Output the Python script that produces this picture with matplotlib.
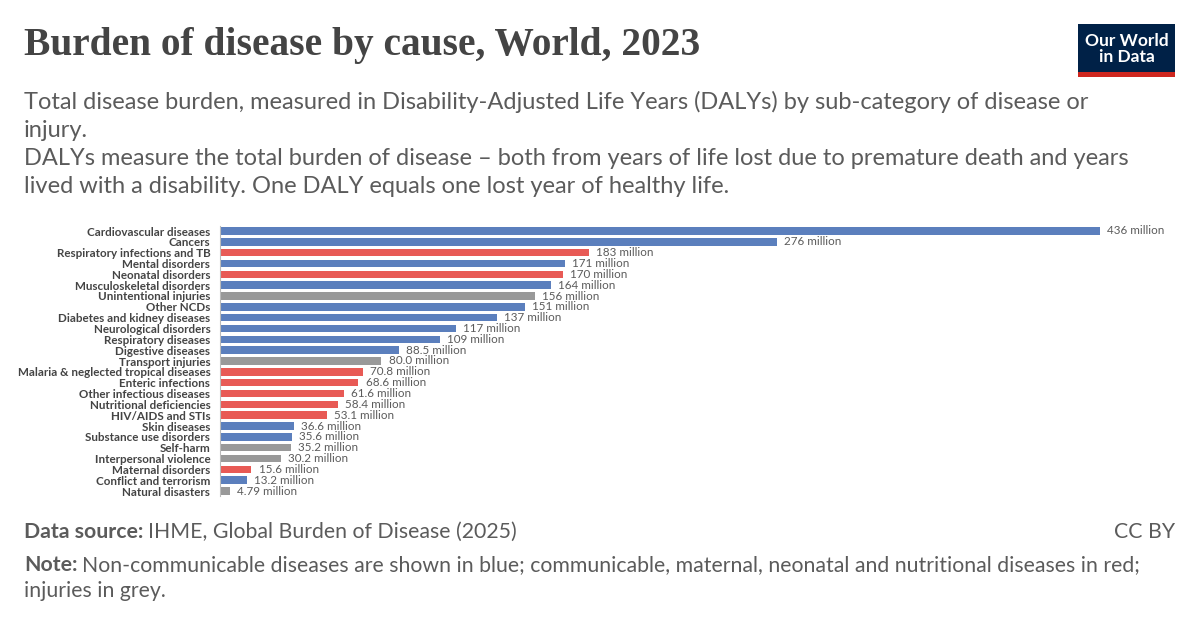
import matplotlib.pyplot as plt
from matplotlib.patches import Rectangle

causes = ["Cardiovascular diseases", "Cancers", "Respiratory infections and TB",
          "Mental disorders", "Neonatal disorders", "Musculoskeletal disorders",
          "Unintentional injuries", "Other NCDs", "Diabetes and kidney diseases",
          "Neurological disorders", "Respiratory diseases", "Digestive diseases",
          "Transport injuries", "Malaria & neglected tropical diseases",
          "Enteric infections", "Other infectious diseases", "Nutritional deficiencies",
          "HIV/AIDS and STIs", "Skin diseases", "Substance use disorders", "Self-harm",
          "Interpersonal violence", "Maternal disorders", "Conflict and terrorism",
          "Natural disasters"]
dalys = [436, 276, 183, 171, 170, 164, 156, 151, 137, 117, 109, 88.5, 80.0, 70.8,
         68.6, 61.6, 58.4, 53.1, 36.6, 35.6, 35.2, 30.2, 15.6, 13.2, 4.79]
value_labels = ["436 million", "276 million", "183 million", "171 million", "170 million",
                "164 million", "156 million", "151 million", "137 million", "117 million",
                "109 million", "88.5 million", "80.0 million", "70.8 million",
                "68.6 million", "61.6 million", "58.4 million", "53.1 million",
                "36.6 million", "35.6 million", "35.2 million", "30.2 million",
                "15.6 million", "13.2 million", "4.79 million"]
# n = non-communicable, c = communicable/maternal/neonatal/nutritional, i = injuries
groups = ["n", "n", "c", "n", "c", "n", "i", "n", "n", "n", "n", "n", "i", "c",
          "c", "c", "c", "c", "n", "n", "i", "i", "c", "n", "i"]
group_colors = {"n": "#5b7fbd", "c": "#e85a55", "i": "#999999"}

plt.rcParams['font.family'] = ['Lato', 'DejaVu Sans']

W, H = 1200, 627
fig = plt.figure(figsize=(W / 100, H / 100), dpi=100)

def fx(px):
    return px / W

def fy(py):
    return 1 - py / H

# title and subtitle
fig.text(fx(24), fy(46), "Burden of disease by cause, World, 2023", family='Liberation Serif',
         weight='bold', fontsize=28.4, color='#444444', va='center', ha='left')
sub = ("Total disease burden, measured in Disability-Adjusted Life Years (DALYs) by sub-category of disease or\n"
       "injury.")
sub2 = ("DALYs measure the total burden of disease \u2013 both from years of life lost due to premature death and years\n"
        "lived with a disability. One DALY equals one lost year of healthy life.")
fig.text(fx(24), fy(91), sub, fontsize=17, color='#5b5b5b', va='top', ha='left', linespacing=1.4)
fig.text(fx(24), fy(148), sub2, fontsize=17, color='#5b5b5b', va='top', ha='left', linespacing=1.4)

# logo
fig.patches.append(Rectangle((fx(1078), fy(72)), fx(97), (72 - 24) / H, transform=fig.transFigure,
                             facecolor='#002147', edgecolor='none'))
fig.patches.append(Rectangle((fx(1078), fy(77)), fx(97), 5 / H, transform=fig.transFigure,
                             facecolor='#ce261e', edgecolor='none'))
fig.text(fx(1126.5), fy(49), "Our World\nin Data", fontsize=12.5, color='white', weight='bold',
         ha='center', va='center', linespacing=1.05)

# bars
px_per_unit = 880 / 436
step = 260 / 24
ax_left, ax_right = 220, 1185
top_px = 231 - step * 0.5
bot_px = 231 + step * 24.5
ax = fig.add_axes([fx(ax_left), fy(bot_px), fx(ax_right - ax_left), (bot_px - top_px) / H])
ypos = list(range(len(causes)))
ax.barh(ypos, dalys, height=0.68, color=[group_colors[g] for g in groups])
ax.set_xlim(0, (ax_right - ax_left) / px_per_unit)
ax.set_ylim(len(causes) - 0.5, -0.5)
for y, v, lab in zip(ypos, dalys, value_labels):
    ax.text(v + 3.5, y, lab, fontsize=8.4, color='#5b5b5b', va='center', ha='left')
ax.set_yticks(ypos)
ax.set_yticklabels(causes, fontsize=8.4, color='#444444', weight='bold')
ax.tick_params(axis='y', length=0, pad=7)
ax.set_xticks([])
for s in ['top', 'right', 'bottom']:
    ax.spines[s].set_visible(False)
ax.spines['left'].set_color('#bbbbbb')
ax.spines['left'].set_linewidth(0.8)

# footer
fs = 15.3
t1 = fig.text(fx(24), fy(532), "Data source:", fontsize=fs, color='#5b5b5b', va='center',
              weight='bold')
fig.text(fx(1175), fy(532), "CC BY", fontsize=fs, color='#5b5b5b', va='center', ha='right')

fig.canvas.draw()
r = fig.canvas.get_renderer()
bb = t1.get_window_extent(r)
fig.text(bb.x1 / W + fx(5), fy(532), "IHME, Global Burden of Disease (2025)", fontsize=fs,
         color='#5b5b5b', va='center')
t2 = fig.text(fx(24), fy(565), "Note:", fontsize=fs, color='#5b5b5b', va='center', weight='bold')
bb2 = t2.get_window_extent(r)
fig.text(bb2.x1 / W + fx(5), fy(565),
         "Non-communicable diseases are shown in blue; communicable, maternal, neonatal and nutritional diseases in red;",
         fontsize=fs, color='#5b5b5b', va='center')
fig.text(fx(24), fy(591), "injuries in grey.", fontsize=fs, color='#5b5b5b', va='center')

fig.savefig("out.png", dpi=100, facecolor='white')
